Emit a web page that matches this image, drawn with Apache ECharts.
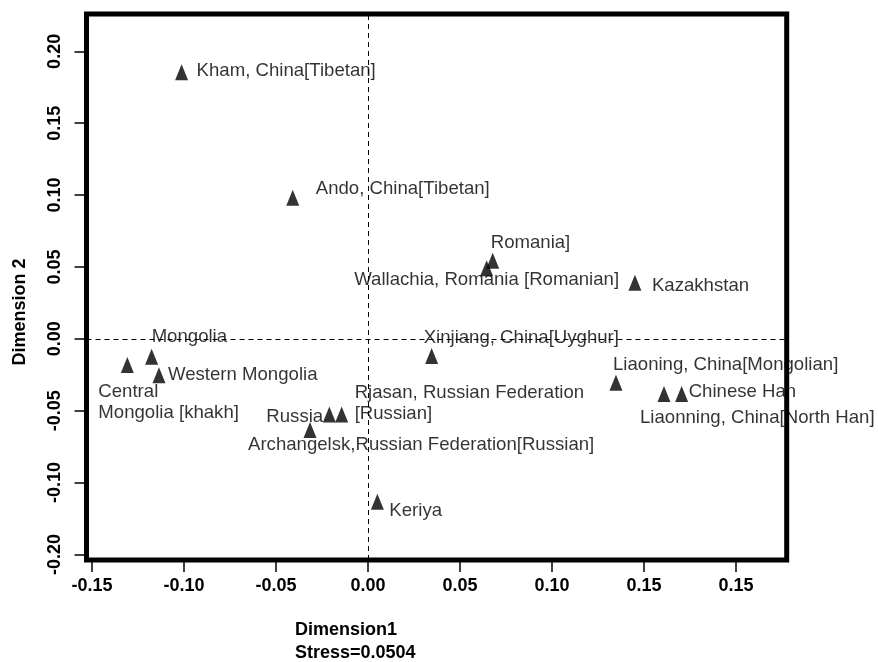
<!DOCTYPE html>
<html>
<head>
<meta charset="utf-8">
<script src="https://cdn.jsdelivr.net/npm/echarts@6/dist/echarts.min.js"></script>
<style>
  html, body { margin: 0; padding: 0; background: #fff; }
  #chart { width: 878px; height: 662px; }
</style>
</head>
<body>
<div id="chart"></div>
<script>
// ---- Data ----
const names = [
  "Kham, China[Tibetan]",
  "Ando, China[Tibetan]",
  "Romania]",
  "Wallachia, Romania [Romanian]",
  "Kazakhstan",
  "Xinjiang, China[Uyghur]",
  "Mongolia",
  "Central\nMongolia [khakh]",
  "Western Mongolia",
  "Liaoning, China[Mongolian]",
  "Liaonning, China[North Han]",
  "Chinese Han",
  "Russia",
  "Rjasan, Russian Federation\n[Russian]",
  "Archangelsk,Russian Federation[Russian]",
  "Keriya"
];
const dim1 = [-0.1013, -0.0409, 0.0678, 0.0645, 0.1451, 0.0346, -0.1176, -0.1308, -0.1136, 0.1348, 0.1609, 0.1705, -0.0210, -0.0143, -0.0315, 0.0051];
const dim2 = [0.1855, 0.0982, 0.0543, 0.0491, 0.0390, -0.0120, -0.0125, -0.0182, -0.0254, -0.0305, -0.0384, -0.0384, -0.0527, -0.0527, -0.0634, -0.1134];

const xTickValues = [-0.15, -0.10, -0.05, 0.00, 0.05, 0.10, 0.15, 0.20];
const xTickLabels = ["-0.15", "-0.10", "-0.05", "0.00", "0.05", "0.10", "0.15", "0.15"];
const yTickValues = [-0.15, -0.10, -0.05, 0.00, 0.05, 0.10, 0.15, 0.20];
const yTickLabels = ["-0.20", "-0.10", "-0.05", "0.00", "0.05", "0.10", "0.15", "0.20"];

const xTitle = "Dimension1";
const stressText = "Stress=0.0504";
const yTitle = "Dimension 2";

// ---- Label placement (style: px offsets from the point: dx, dy, align) ----
const labelPlacement = [
  [15, -1, 'left'],
  [23, -9, 'left'],
  [-2, -18, 'left'],
  [0, 12, 'center'],
  [17, 3, 'left'],
  [-8, -18, 'left'],
  [0, -20, 'left'],
  [-29, 37, 'left'],
  [9, 0, 'left'],
  [-3, -18, 'left'],
  [-24, 24, 'left'],
  [7, -2, 'left'],
  [-63, 2, 'left'],
  [13, -11, 'left'],
  [-62, 15, 'left'],
  [12, 9, 'left']
];
const SYM_W = 13, SYM_H = 16;

function tickLabel(values, labels) {
  return function (v) {
    for (let i = 0; i < values.length; i++) {
      if (Math.abs(values[i] - v) < 1e-6) return labels[i];
    }
    return '';
  };
}

const seriesData = names.map((n, i) => ({
  name: n,
  value: [dim1[i], dim2[i]],
  label: {
    position: [SYM_W / 2 + labelPlacement[i][0], SYM_H / 2 + labelPlacement[i][1]],
    align: labelPlacement[i][2],
    verticalAlign: 'middle'
  }
}));

const FONT = '"Liberation Sans", Arial, sans-serif';

const chart = echarts.init(document.getElementById('chart'), null, { renderer: 'canvas' });
chart.setOption({
  animation: false,
  backgroundColor: '#ffffff',
  grid: {
    left: 86.5, right: 91.3, top: 14, bottom: 102,
    show: true, borderColor: '#000', borderWidth: 5, backgroundColor: 'transparent'
  },
  xAxis: {
    type: 'value',
    min: -0.1530, max: 0.2276,
    axisLine: { show: false, onZero: false },
    splitLine: { show: false },
    axisTick: { show: true, length: 12, customValues: xTickValues, lineStyle: { color: '#000', width: 1.5 } },
    axisLabel: {
      customValues: xTickValues,
      formatter: tickLabel(xTickValues, xTickLabels),
      margin: 17, color: '#000', fontWeight: 'bold', fontSize: 18, fontFamily: FONT
    }
  },
  yAxis: {
    type: 'value',
    min: -0.1539, max: 0.2260,
    axisLine: { show: false, onZero: false },
    splitLine: { show: false },
    axisTick: { show: true, length: 12, customValues: yTickValues, lineStyle: { color: '#000', width: 1.5 } },
    axisLabel: {
      customValues: yTickValues,
      formatter: tickLabel(yTickValues, yTickLabels),
      rotate: 90, margin: 22, color: '#000', fontWeight: 'bold', fontSize: 18, fontFamily: FONT
    }
  },
  graphic: [
    { type: 'text', x: 295, y: 630, style: { text: xTitle, fill: '#000', font: 'bold 18px ' + FONT, align: 'left', verticalAlign: 'middle' } },
    { type: 'text', x: 295, y: 653, style: { text: stressText, fill: '#000', font: 'bold 18px ' + FONT, align: 'left', verticalAlign: 'middle' } },
    { type: 'text', x: 20, y: 312, rotation: Math.PI / 2, style: { text: yTitle, fill: '#000', font: 'bold 18px ' + FONT, align: 'center', verticalAlign: 'middle' } }
  ],
  series: [{
    type: 'scatter',
    symbol: 'triangle',
    symbolSize: [SYM_W, SYM_H],
    itemStyle: { color: '#000' },
    label: {
      show: true,
      formatter: '{b}',
      color: '#000',
      fontSize: 18.6,
      fontFamily: FONT,
      lineHeight: 21
    },
    emphasis: { disabled: true },
    markLine: {
      silent: true,
      symbol: 'none',
      label: { show: false },
      lineStyle: { color: '#000', type: [5, 4], width: 1 },
      data: [{ xAxis: 0 }, { yAxis: 0 }]
    },
    data: seriesData
  }]
});
</script>
</body>
</html>
